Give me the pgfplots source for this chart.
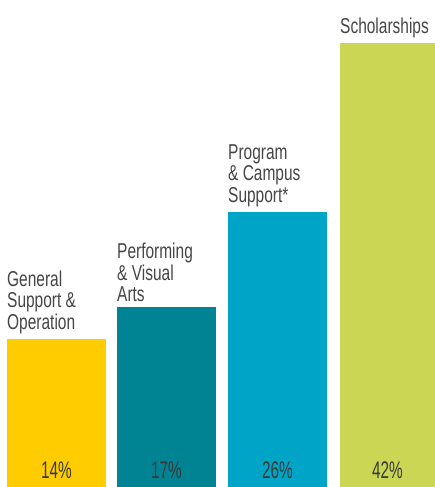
\documentclass[border=0pt]{standalone}
\usepackage{fontspec}
\setmainfont{Liberation Sans}[FakeStretch=0.72]
\newfontfamily\pctfont{Liberation Sans}[FakeStretch=0.64]
\usepackage{pgfplots}
\pgfplotsset{compat=1.18}
\definecolor{cYellow}{HTML}{FFCC00}
\definecolor{cTeal}{HTML}{008494}
\definecolor{cCyan}{HTML}{00A4C6}
\definecolor{cLime}{HTML}{CBD655}
\definecolor{cText}{HTML}{454545}
\definecolor{cPct}{HTML}{3A3A3A}
\begin{document}
\begin{tikzpicture}
\begin{axis}[
  width=435bp, height=487bp, scale only axis,
  xmin=0, xmax=435, ymin=0, ymax=46.07,
  hide axis, clip=true,
  ybar, bar width=99, bar shift=0pt,
]
\addplot[fill=cYellow, draw=none] coordinates {(56.5,14)};
\addplot[fill=cTeal, draw=none] coordinates {(166.5,17)};
\addplot[fill=cCyan, draw=none] coordinates {(277.5,26)};
\addplot[fill=cLime, draw=none] coordinates {(389.5,42)};
\begin{scope}[every node/.style={inner sep=0pt, text=cText, align=left, anchor=south west, yshift=5bp, font=\fontsize{21.5bp}{21.5bp}\selectfont}]
\node at (axis cs:7,14) {General\\Support \&\\Operation};
\node at (axis cs:117,17) {Performing\\\& Visual\\Arts};
\node at (axis cs:228,26) {Program\\\& Campus\\Support*};
\node at (axis cs:340,42) {Scholarships};
\end{scope}
\begin{scope}[every node/.style={inner sep=0pt, text=cPct, anchor=base, yshift=9bp, font=\pctfont\fontsize{24bp}{24bp}\selectfont}]
\node at (axis cs:56.5,0) {14\%};
\node at (axis cs:166.5,0) {17\%};
\node at (axis cs:277.5,0) {26\%};
\node at (axis cs:387.5,0) {42\%};
\end{scope}
\end{axis}
\pgfresetboundingbox
\path (current axis.south west) rectangle (current axis.north east);
\end{tikzpicture}
\end{document}
